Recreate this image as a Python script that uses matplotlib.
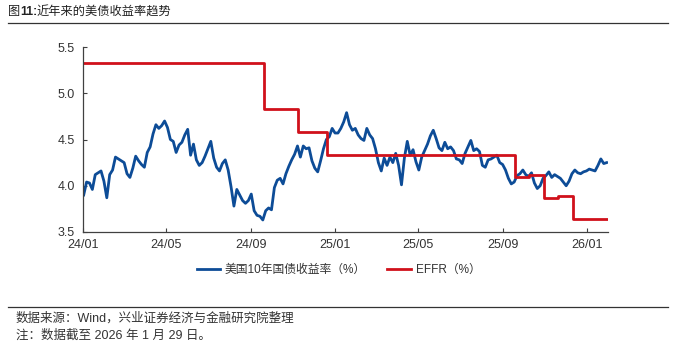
import pandas as pd
import matplotlib.pyplot as plt
import matplotlib.dates as mdates

plt.rcParams['font.family'] = ['Liberation Sans', 'Noto Sans CJK SC', 'DejaVu Sans']

# 10Y US treasury yield, sampled every ~3 business days, 2024-01-02 .. 2026-01-29
y2024 = [3.90, 4.04, 4.03, 3.96, 4.12, 4.14, 4.16, 4.05, 3.87, 4.12,
         4.17, 4.31, 4.29, 4.27, 4.25, 4.13, 4.09, 4.19, 4.32, 4.27,
         4.23, 4.20, 4.36, 4.42, 4.56, 4.66, 4.62, 4.65, 4.70, 4.63,
         4.50, 4.48, 4.36, 4.44, 4.47, 4.55, 4.61, 4.33, 4.45, 4.28,
         4.22, 4.25, 4.32, 4.40, 4.48, 4.30, 4.20, 4.16, 4.24, 4.28,
         4.17, 3.99, 3.78, 3.96, 3.90, 3.84, 3.81, 3.84, 3.91, 3.73,
         3.68, 3.67, 3.63, 3.73, 3.76, 3.74, 3.98, 4.06, 4.08, 4.02,
         4.13, 4.21, 4.28, 4.34, 4.43, 4.31, 4.43, 4.40, 4.41, 4.27,
         4.19, 4.15, 4.27, 4.40, 4.50, 4.53, 4.62, 4.57]
y2025 = [4.57, 4.62, 4.69, 4.79, 4.66, 4.60, 4.62, 4.55, 4.51, 4.49,
         4.62, 4.55, 4.51, 4.40, 4.25, 4.16, 4.30, 4.22, 4.31, 4.25,
         4.35, 4.22, 4.01, 4.30, 4.48, 4.33, 4.39, 4.26, 4.17, 4.31,
         4.38, 4.45, 4.54, 4.60, 4.51, 4.41, 4.38, 4.47, 4.40, 4.42,
         4.38, 4.29, 4.28, 4.24, 4.35, 4.42, 4.49, 4.38, 4.40, 4.37,
         4.22, 4.20, 4.28, 4.29, 4.31, 4.33, 4.25, 4.23, 4.17, 4.08,
         4.02, 4.04, 4.11, 4.13, 4.17, 4.12, 4.10, 4.14, 4.03, 3.97,
         4.00, 4.08, 4.11, 4.15, 4.09, 4.12, 4.10, 4.08, 4.04, 4.00,
         4.05, 4.13, 4.17, 4.14, 4.13, 4.15, 4.16]
y2026 = [4.18, 4.17, 4.16, 4.22, 4.29, 4.24, 4.25]
ust10y = y2024 + y2025 + y2026
ust_dates = pd.date_range('2024-01-02', '2026-01-29', periods=len(ust10y))

# EFFR step levels
effr_dates = pd.to_datetime(['2024-01-02', '2024-09-19', '2024-11-08', '2024-12-19',
                             '2025-09-18', '2025-10-09', '2025-10-30', '2025-11-20',
                             '2025-12-11', '2026-01-29'])
effr = [5.33, 4.83, 4.58, 4.33, 4.09, 4.12, 3.87, 3.89, 3.64, 3.64]

xticks = pd.to_datetime(['2024-01-01', '2024-05-01', '2024-09-01', '2025-01-01',
                         '2025-05-01', '2025-09-01', '2026-01-01'])

fig = plt.figure(figsize=(6.77, 3.48), dpi=100)
ax = fig.add_axes([83/677, 1-232/348, (608-83)/677, (232-47)/348])

ax.plot(ust_dates, ust10y, color='#0D4C97', lw=2.0, label='美国10年国债收益率（%）')
ax.plot(effr_dates, effr, color='#D0111B', lw=2.0, drawstyle='steps-post', label='EFFR（%）')

ax.set_ylim(3.5, 5.5)
ax.set_yticks([3.5, 4.0, 4.5, 5.0, 5.5])
ax.set_xlim(pd.Timestamp('2024-01-01'), pd.Timestamp('2026-01-31'))
ax.set_xticks(xticks)
ax.xaxis.set_major_formatter(mdates.DateFormatter('%y/%m'))
for s in ['top', 'right']:
    ax.spines[s].set_visible(False)
for s in ['left', 'bottom']:
    ax.spines[s].set_color('#404040')
    ax.spines[s].set_linewidth(0.9)
ax.tick_params(axis='both', direction='in', length=3, width=0.8, color='#404040',
               labelsize=9, labelcolor='#333333')
ax.tick_params(axis='x', pad=5)
ax.tick_params(axis='y', pad=6)

fig.legend(loc='center', bbox_to_anchor=(0.5, 1-270/348), ncol=2, frameon=False,
           fontsize=8.5, handlelength=2.0, columnspacing=1.8, handletextpad=0.4,
           labelcolor='#333333')

# title
fig.text(8/677, 1-12/348, '图', fontsize=8.8, va='center', color='#222222',
         family=['Noto Sans CJK SC'])
fig.text(20/677, 1-12/348, '11:', fontsize=8.8, va='center', color='#222222',
         fontweight='bold')
fig.text(36/677, 1-12/348, '近年来的美债收益率趋势', fontsize=8.8, va='center',
         color='#222222', family=['Noto Sans CJK SC'])
fig.add_artist(plt.Line2D([8/677, 668/677], [1-23/348, 1-23/348], color='#333333', lw=0.9))

# footer
fig.add_artist(plt.Line2D([8/677, 668/677], [1-307/348, 1-307/348], color='#333333', lw=0.9))
fig.text(16/677, 1-318/348, '数据来源：Wind，兴业证券经济与金融研究院整理', fontsize=9,
         va='center', color='#333333')
fig.text(16/677, 1-336/348, '注：数据截至 2026 年 1 月 29 日。', fontsize=9,
         va='center', color='#333333')

fig.savefig('out.png', dpi=100)
